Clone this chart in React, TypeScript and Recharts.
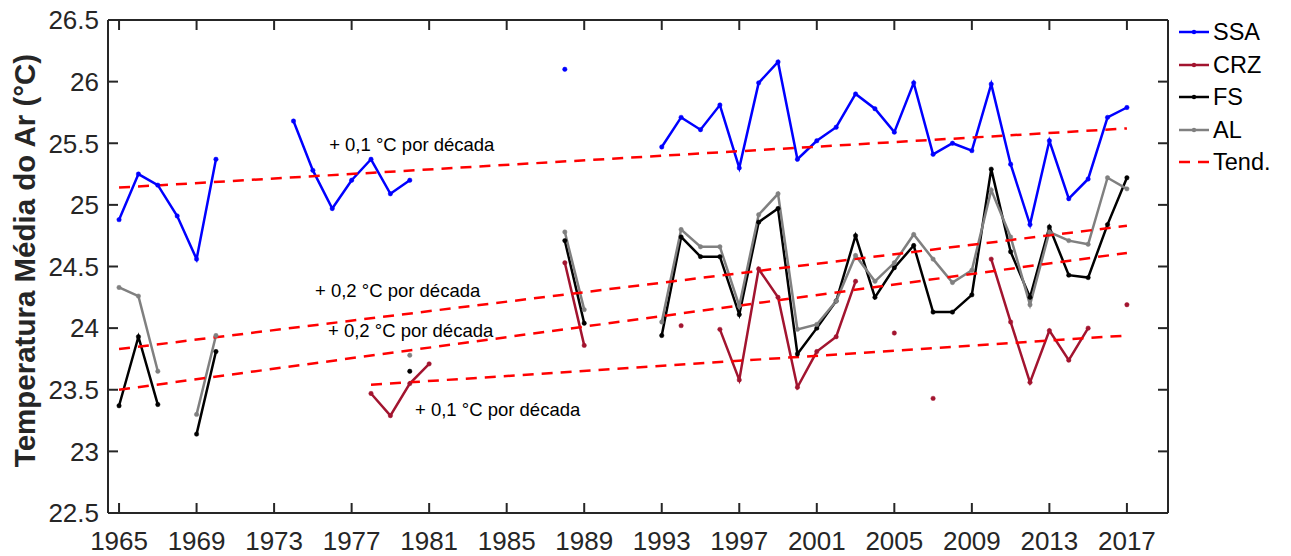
import { Line, LineChart, ReferenceDot, XAxis, YAxis } from "recharts";

const years = [
  1965, 1966, 1967, 1968, 1969, 1970, 1971, 1972, 1973, 1974, 1975, 1976, 1977, 1978, 1979, 1980, 1981, 1982,
  1983, 1984, 1985, 1986, 1987, 1988, 1989, 1990, 1991, 1992, 1993, 1994, 1995, 1996, 1997, 1998, 1999, 2000,
  2001, 2002, 2003, 2004, 2005, 2006, 2007, 2008, 2009, 2010, 2011, 2012, 2013, 2014, 2015, 2016, 2017,
];

// one value per year, null where the station has no data
const ssa = [
  24.88, 25.25, 25.16, 24.91, 24.56, 25.37, null, null, null, 25.68, 25.28, 24.97, 25.2, 25.37, 25.09, 25.2, null, null,
  null, null, null, null, null, 26.1, null, null, null, null, 25.47, 25.71, 25.61, 25.81, 25.3, 25.99, 26.16, 25.37,
  25.52, 25.63, 25.9, 25.78, 25.59, 25.99, 25.41, 25.5, 25.44, 25.98, 25.33, 24.84, 25.52, 25.05, 25.21, 25.71, 25.79,
];
const crz = [
  null, null, null, null, null, null, null, null, null, null, null, null, null, 23.47, 23.29, 23.55, 23.71, null,
  null, null, null, null, null, 24.53, 23.86, null, null, null, null, 24.02, null, 23.99, 23.58, 24.48, 24.25, 23.52,
  23.81, 23.93, 24.38, null, 23.96, null, 23.43, null, null, 24.56, 24.05, 23.56, 23.98, 23.74, 24.0, null, 24.19,
];
const fs = [
  23.37, 23.93, 23.38, null, 23.14, 23.81, null, null, null, null, null, null, null, null, null, 23.65, null, null,
  null, null, null, null, null, 24.71, 24.04, null, null, null, 23.94, 24.74, 24.58, 24.58, 24.11, 24.86, 24.97, 23.79,
  24.0, 24.22, 24.75, 24.25, 24.49, 24.67, 24.13, 24.13, 24.27, 25.29, 24.62, 24.25, 24.82, 24.43, 24.41, 24.84, 25.22,
];
const al = [
  24.33, 24.26, 23.65, null, 23.3, 23.94, null, null, null, null, null, null, null, null, null, 23.78, null, null,
  null, null, null, null, null, 24.78, 24.15, null, null, null, 24.05, 24.8, 24.66, 24.66, 24.18, 24.92, 25.09, 23.99,
  24.03, 24.22, 24.59, 24.38, 24.53, 24.76, 24.56, 24.37, 24.47, 25.12, 24.74, 24.19, 24.78, 24.71, 24.68, 25.22, 25.13,
];

// linear trends, start and end of each fitted line
const trendSsa = [
  { year: 1965, value: 25.14 },
  { year: 2017, value: 25.62 },
];
const trendAl = [
  { year: 1965, value: 23.83 },
  { year: 2017, value: 24.83 },
];
const trendFs = [
  { year: 1965, value: 23.5 },
  { year: 2017, value: 24.61 },
];
const trendCrz = [
  { year: 1978, value: 23.54 },
  { year: 2017, value: 23.94 },
];

const annotationTexts = ["+ 0,1 °C por década", "+ 0,2 °C por década", "+ 0,2 °C por década", "+ 0,1 °C por década"];
const annotationYears = [1975.84, 1975.11, 1975.78, 1980.27];
const annotationValues = [25.44, 24.25, 23.93, 23.29];

const xTicks = [1965, 1969, 1973, 1977, 1981, 1985, 1989, 1993, 1997, 2001, 2005, 2009, 2013, 2017];
const yTicks = [22.5, 23, 23.5, 24, 24.5, 25, 25.5, 26, 26.5];

const seriesNames = ["SSA", "CRZ", "FS", "AL"];
const trendName = "Tend.";

const colors: Record<string, string> = { SSA: "#0000ff", CRZ: "#a2142f", FS: "#000000", AL: "#808080" };
const TREND = "#ff0000";
const AXIS = "#262626";
const FONT = "'Liberation Sans', Arial, Helvetica, sans-serif";

const table = years.map((year, i) => ({ year, SSA: ssa[i], CRZ: crz[i], FS: fs[i], AL: al[i] }));

const BottomTick = (props: any) => {
  const { x, y, payload } = props;
  return (
    <g>
      <line x1={x} y1={y} x2={x} y2={y - 10} stroke={AXIS} strokeWidth={2} />
      <text x={x} y={y + 37} textAnchor="middle" fontFamily={FONT} fontSize={26} fill={AXIS}>
        {payload.value}
      </text>
    </g>
  );
};

const TopTick = (props: any) => {
  const { x, y } = props;
  return <line x1={x} y1={y} x2={x} y2={y + 10} stroke={AXIS} strokeWidth={2} />;
};

const LeftTick = (props: any) => {
  const { x, y, payload } = props;
  return (
    <g>
      <line x1={x} y1={y} x2={x + 10} y2={y} stroke={AXIS} strokeWidth={2} />
      <text x={x - 9} y={y} dy="0.36em" textAnchor="end" fontFamily={FONT} fontSize={26} fill={AXIS}>
        {payload.value}
      </text>
    </g>
  );
};

const RightTick = (props: any) => {
  const { x, y } = props;
  return <line x1={x} y1={y} x2={x - 10} y2={y} stroke={AXIS} strokeWidth={2} />;
};

const YTitle = (props: any) => {
  const vb = props.viewBox;
  const cx = vb.x + 35;
  const cy = vb.y + vb.height / 2 - 6;
  return (
    <text
      x={cx}
      y={cy}
      transform={`rotate(-90, ${cx}, ${cy})`}
      textAnchor="middle"
      fontFamily={FONT}
      fontWeight="bold"
      fontSize={29.5}
      fill={AXIS}
    >
      Temperatura Média do Ar (°C)
    </text>
  );
};

function LegendBox() {
  const rows = [...seriesNames, trendName];
  return (
    <div style={{ position: "absolute", left: 1176, top: 16, fontFamily: FONT, fontSize: 23.5, color: "#000" }}>
      {rows.map((name) => {
        const isTrend = name === trendName;
        const c = isTrend ? TREND : colors[name];
        return (
          <div key={name} style={{ display: "flex", alignItems: "center", height: 32.5 }}>
            <svg width={36} height={12} style={{ display: "block" }}>
              {isTrend ? (
                <line x1={3} y1={6} x2={33} y2={6} stroke={c} strokeWidth={2.5} strokeDasharray="11 8" />
              ) : (
                <>
                  <line x1={3} y1={6} x2={33} y2={6} stroke={c} strokeWidth={2.5} />
                  <circle cx={18} cy={6} r={2.2} fill={c} />
                </>
              )}
            </svg>
            <span style={{ marginLeft: 1, lineHeight: "24px" }}>{name}</span>
          </div>
        );
      })}
    </div>
  );
}

export default function App() {
  const xDomain = [1964.43, 2019.12];
  const yDomain = [22.5, 26.5];
  return (
    <div style={{ position: "absolute", left: 0, top: 0, width: 1291, height: 556, background: "#fff" }}>
      <LineChart width={1291} height={556} data={table} margin={{ top: 19, right: 122, left: 0, bottom: 0 }}>
        <XAxis
          dataKey="year"
          type="number"
          domain={xDomain}
          ticks={xTicks}
          height={43}
          tickSize={0}
          tickMargin={0}
          tickLine={false}
          tick={<BottomTick />}
          axisLine={{ stroke: AXIS, strokeWidth: 2 }}
          allowDataOverflow
        />
        <XAxis
          xAxisId="top"
          orientation="top"
          dataKey="year"
          type="number"
          domain={xDomain}
          ticks={xTicks}
          height={1}
          tickSize={0}
          tickMargin={0}
          tickLine={false}
          tick={<TopTick />}
          axisLine={{ stroke: AXIS, strokeWidth: 2 }}
          allowDataOverflow
        />
        <YAxis
          type="number"
          domain={yDomain}
          ticks={yTicks}
          width={108}
          tickSize={0}
          tickMargin={0}
          tickLine={false}
          tick={<LeftTick />}
          axisLine={{ stroke: AXIS, strokeWidth: 2 }}
          label={(p: any) => <YTitle {...p} />}
          allowDataOverflow
        />
        <YAxis
          yAxisId="right"
          orientation="right"
          type="number"
          domain={yDomain}
          ticks={yTicks}
          width={1}
          tickSize={0}
          tickMargin={0}
          tickLine={false}
          tick={<RightTick />}
          axisLine={{ stroke: AXIS, strokeWidth: 2 }}
          allowDataOverflow
        />
        {seriesNames.map((name) => (
          <Line
            key={name}
            dataKey={name}
            stroke={colors[name]}
            strokeWidth={2.5}
            dot={{ r: 2.2, fill: colors[name], stroke: colors[name], strokeWidth: 0.5 }}
            activeDot={false}
            connectNulls={false}
            isAnimationActive={false}
          />
        ))}
        {[trendSsa, trendAl, trendFs, trendCrz].map((d, i) => (
          <Line
            key={"trend" + i}
            data={d}
            dataKey="value"
            stroke={TREND}
            strokeWidth={2.5}
            strokeDasharray="11 8"
            dot={false}
            activeDot={false}
            isAnimationActive={false}
          />
        ))}
        {annotationTexts.map((t, i) => (
          <ReferenceDot
            key={"ann" + i}
            x={annotationYears[i]}
            y={annotationValues[i]}
            r={0}
            fill="none"
            stroke="none"
            label={(p: any) => (
              <text x={p.viewBox.x} y={p.viewBox.y} fontFamily={FONT} fontSize={18.5} fill="#000">
                {t}
              </text>
            )}
          />
        ))}
      </LineChart>
      <LegendBox />
    </div>
  );
}
